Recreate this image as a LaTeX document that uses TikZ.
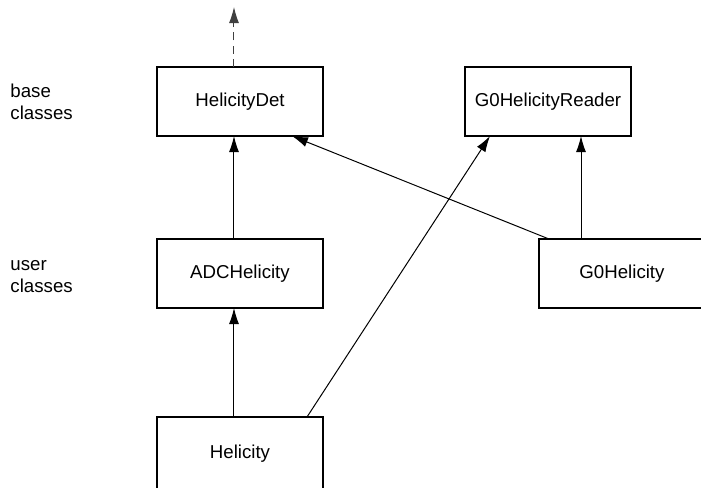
\documentclass[tikz,border=0pt]{standalone}
\usepackage{fontspec}
\setmainfont{Liberation Sans}
\usetikzlibrary{arrows.meta, positioning}

\begin{document}
\begin{tikzpicture}[
    classbox/.style={
      rectangle,
      draw,
      line width=1.5pt,
      minimum width=124.5pt,
      minimum height=51.75pt,
      outer sep=0pt,
      align=center,
      font=\fontsize{14}{16.5}\selectfont
    },
    layer/.style={
      align=left,
      inner sep=0pt,
      font=\fontsize{14}{16.5}\selectfont
    },
    link/.style={->, line width=0.75pt},
    >={Latex[length=12pt,width=7.5pt]}
  ]

    % picture frame
    \useasboundingbox (-180pt,-289.125pt) rectangle (345.75pt,76.125pt);
    \clip (-180pt,-289.125pt) rectangle (345.75pt,76.125pt);

    % Top row: base classes
    \node[classbox] (det) {HelicityDet};
    \node[classbox] (reader) [right=106.5pt of det] {G0HelicityReader};

    % Middle row: user classes
    \node[classbox] (adc) [below=77.25pt of det] {ADCHelicity};
    \node[classbox] (g0)  [right=162pt of adc] {G0Helicity};

    % Bottom row (cut off by the frame)
    \node[classbox, minimum height=55.5pt] (hel) [below=81.75pt of adc] {Helicity};

    % Row labels
    \node[layer] (baselbl) [left=63pt of det] {base\\classes};
    \node[layer] (userlbl) [left=63pt of adc, yshift=-2pt] {user\\classes};

    % Edges
    \coordinate (up) at ([xshift=-4.5pt,yshift=45pt]det.north);
    \draw[link, draw=black!75, dash pattern=on 6pt off 4pt] ([xshift=-4.5pt]det.north) -- (up);

    \draw[link] ([xshift=-4.5pt]adc.north) -- ([xshift=-4.5pt]det.south);
    \draw[link] ([xshift=-4.5pt]hel.north) -- ([xshift=-4.5pt]adc.south);
    \draw[link] ([xshift=-12pt]hel.north east) -- ([xshift=18.75pt]reader.south west);

    \draw[link] ([xshift=31.5pt]g0.north west) -- ([xshift=24.75pt]reader.south);
    \draw[link] ([xshift=7.5pt]g0.north west) -- ([xshift=-23.25pt]det.south east);

  \end{tikzpicture}
\end{document}
